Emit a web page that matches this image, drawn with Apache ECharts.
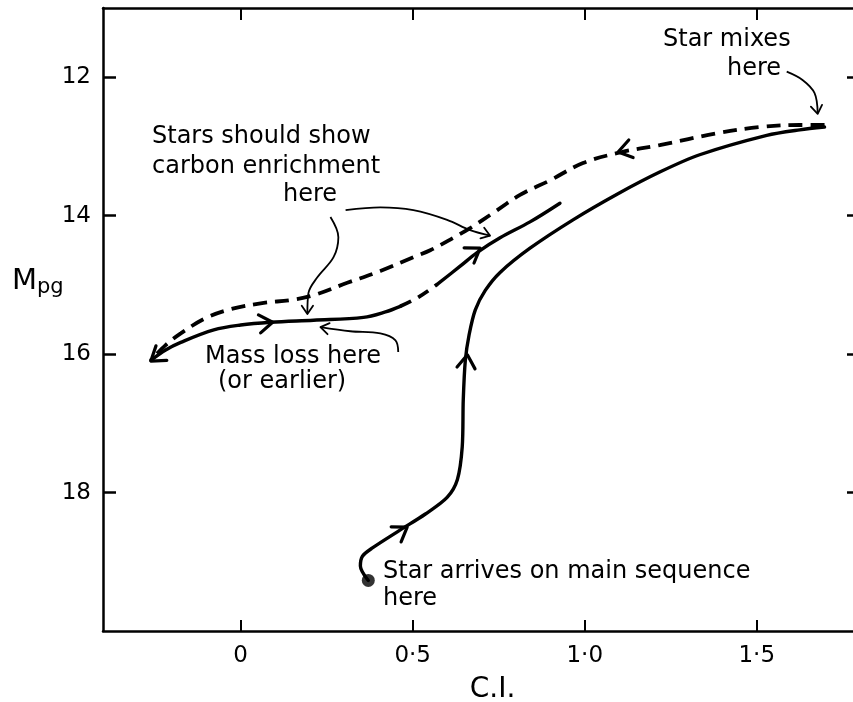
<!DOCTYPE html>
<html>
<head>
<meta charset="utf-8">
<script src="https://cdn.jsdelivr.net/npm/echarts@6/dist/echarts.min.js"></script>
<style>
html,body{margin:0;padding:0;background:#fff;}
#chart{width:853px;height:702px;}
</style>
</head>
<body>
<div id="chart"></div>
<script>
// ---- data (C.I., M_pg) ----
const xTicks = [0, 0.5, 1.0, 1.5];
const yTicks = [12, 14, 16, 18];

// upper dashed track (after mixing, going back to the left)
const mixedTrack = [
  [1.697,12.69],[1.625,12.69],[1.509,12.72],[1.384,12.81],[1.218,12.98],[1.108,13.08],
  [0.995,13.24],[0.899,13.49],[0.812,13.70],[0.734,13.96],[0.667,14.18],[0.618,14.32],
  [0.551,14.50],[0.502,14.60],[0.406,14.80],[0.310,14.97],[0.212,15.15],[0.145,15.22],
  [0.067,15.26],[-0.029,15.35],[-0.102,15.48],[-0.174,15.70],[-0.218,15.87],[-0.261,16.09]
];
// lower solid branch, first part
const lowerTrackA = [
  [-0.261,16.09],[-0.218,15.94],[-0.174,15.83],[-0.078,15.65],[0.0,15.58],[0.087,15.54],
  [0.212,15.51],[0.357,15.47],[0.421,15.39],[0.464,15.31]
];
// short dashed gap in lower branch
const lowerGap = [[0.464,15.31],[0.516,15.18],[0.572,14.99]];
// lower solid branch, second part
const lowerTrackB = [
  [0.572,14.99],[0.638,14.73],[0.688,14.53],[0.754,14.32],[0.841,14.09],[0.928,13.82]
];
// main track: from arrival on main sequence up to mixing point
const mainTrack = [
  [0.371,19.27],[0.348,19.06],[0.354,18.92],[0.383,18.80],[0.464,18.54],[0.537,18.31],
  [0.600,18.07],[0.630,17.81],[0.644,17.34],[0.647,16.66],[0.653,16.09],[0.664,15.72],
  [0.682,15.36],[0.711,15.08],[0.754,14.82],[0.841,14.47],[0.966,14.06],[1.094,13.69],
  [1.218,13.37],[1.334,13.12],[1.529,12.84],[1.625,12.76],[1.697,12.72]
];
const arrivalPoint = [[0.371,19.27]];

// direction arrows on tracks: [tipCI, tipMpg, backCI, backMpg]
const trackArrows = [
  [0.484,18.50,0.435,18.66],
  [0.659,16.01,0.653,16.30],
  [0.093,15.54,0.044,15.57],
  [0.696,14.47,0.653,14.61],
  [1.097,13.08,1.146,13.02],
  [-0.261,16.10,-0.218,15.94]
];

// annotation pointer curves
const pointerMixes = [[1.587,11.92],[1.633,12.04],[1.668,12.23],[1.677,12.52]];
const pointerCarbonA = [[0.261,14.02],[0.284,14.31],[0.270,14.60],[0.223,14.89],[0.197,15.12],[0.194,15.41]];
const pointerCarbonB = [[0.305,13.92],[0.406,13.88],[0.502,13.92],[0.600,14.06],[0.667,14.21],[0.725,14.29]];
const pointerMassLoss = [[0.458,15.97],[0.450,15.80],[0.406,15.70],[0.319,15.67],[0.232,15.61]];
const pointerArrows = [
  [1.677,12.53,1.671,12.33],
  [0.194,15.42,0.194,15.22],
  [0.725,14.29,0.685,14.22],
  [0.232,15.61,0.275,15.65]
];

// ---- chart ----
const FONT = 'DejaVu Sans';
const chart = echarts.init(document.getElementById('chart'), null, {renderer:'canvas'});

function fmtX(v){ return v === 0 ? '0' : Number(v).toFixed(1).replace('.', '\u00b7'); }

function arrowRenderer(len, width){
  return function(params, api){
    const tip = api.coord([api.value(0), api.value(1)]);
    const back = api.coord([api.value(2), api.value(3)]);
    const ang = Math.atan2(tip[1]-back[1], tip[0]-back[0]);
    const a = 0.6;
    const p1 = [tip[0] - len*Math.cos(ang - a), tip[1] - len*Math.sin(ang - a)];
    const p2 = [tip[0] - len*Math.cos(ang + a), tip[1] - len*Math.sin(ang + a)];
    return {
      type:'polyline',
      shape:{points:[p1, tip, p2]},
      style:{stroke:'#000', lineWidth:width, fill:null, lineCap:'round', lineJoin:'round'}
    };
  };
}

const axisLine = {show:true, onZero:false, lineStyle:{color:'#000', width:2.5}};
const txt = (text, left, cy, size) => ({
  type:'text', left:left, top:cy - size*0.62,
  style:{text:text, font: size + 'px "' + FONT + '"', fill:'#000'}
});

function lineSeries(data, opts){
  return Object.assign({
    type:'line', data:data, showSymbol:false, symbol:'none', smooth:0.35,
    xAxisIndex:0, yAxisIndex:0, silent:true, z:3,
    lineStyle:{color:'#000', width:3.4, cap:'round', join:'round'}
  }, opts || {});
}

const option = {
  animation:false,
  backgroundColor:'#fff',
  grid:{left:103, top:8, width:757, height:623, containLabel:false, outerBoundsMode:'none'},
  xAxis:[
    {type:'value', position:'bottom', min:-0.4, max:1.8,
     axisLine:axisLine, splitLine:{show:false},
     axisTick:{show:true, inside:true, length:11, customValues:xTicks, lineStyle:{color:'#000', width:2}},
     axisLabel:{show:true, customValues:xTicks, formatter:fmtX, margin:14, color:'#000', fontSize:23, fontFamily:FONT},
     name:'C.I.', nameLocation:'middle', nameGap:45,
     nameTextStyle:{color:'#000', fontSize:28, fontFamily:FONT, padding:[0,0,0,22]}},
    {type:'value', position:'top', min:-0.4, max:1.8,
     axisLine:axisLine, splitLine:{show:false},
     axisTick:{show:true, inside:true, length:12, customValues:xTicks, lineStyle:{color:'#000', width:2}},
     axisLabel:{show:false}}
  ],
  yAxis:[
    {type:'value', position:'left', inverse:true, min:11, max:20,
     axisLine:axisLine, splitLine:{show:false},
     axisTick:{show:true, inside:true, length:13, customValues:yTicks, lineStyle:{color:'#000', width:2.5}},
     axisLabel:{show:true, customValues:yTicks, margin:12, color:'#000', fontSize:23, fontFamily:FONT}},
    {type:'value', position:'right', inverse:true, min:11, max:20,
     axisLine:axisLine, splitLine:{show:false},
     axisTick:{show:true, inside:true, length:13, customValues:yTicks, lineStyle:{color:'#000', width:2.5}},
     axisLabel:{show:false}}
  ],
  series:[
    lineSeries(mixedTrack, {lineStyle:{color:'#000', width:3.8, type:[14,8]}}),
    lineSeries(lowerTrackA),
    lineSeries(lowerGap, {lineStyle:{color:'#000', width:3.8, type:[12,8]}}),
    lineSeries(lowerTrackB),
    lineSeries(mainTrack, {smooth:0.3}),
    lineSeries(pointerMixes, {lineStyle:{color:'#000', width:1.8}}),
    lineSeries(pointerCarbonA, {lineStyle:{color:'#000', width:1.8}}),
    lineSeries(pointerCarbonB, {lineStyle:{color:'#000', width:1.8}}),
    lineSeries(pointerMassLoss, {lineStyle:{color:'#000', width:1.8}}),
    {type:'scatter', data:arrivalPoint, symbol:'circle', symbolSize:13,
     itemStyle:{color:'#000'}, silent:true, z:4},
    {type:'custom', data:trackArrows, renderItem:arrowRenderer(16, 3.2),
     encode:{x:0, y:1}, silent:true, z:4, clip:false},
    {type:'custom', data:pointerArrows, renderItem:arrowRenderer(10, 1.8),
     encode:{x:0, y:1}, silent:true, z:4, clip:false}
  ],
  graphic:[
    txt('Star mixes', 663, 43, 24),
    txt('here', 727, 72, 24),
    txt('Stars should show', 152, 140, 24),
    txt('carbon enrichment', 152, 170, 24),
    txt('here', 283, 198, 24),
    txt('Mass loss here', 205, 360, 24),
    txt('(or earlier)', 218, 385, 24),
    txt('Star arrives on main sequence', 383, 575, 24),
    txt('here', 383, 602, 24),
    {type:'text', left:12, top:267,
     style:{rich:{m:{fontSize:29, fontFamily:FONT, fill:'#000'}, s:{fontSize:21, fontFamily:FONT, fill:'#000', padding:[12,0,0,0]}},
            text:'{m|M}{s|pg}'}}
  ]
};
chart.setOption(option);
</script>
</body>
</html>
